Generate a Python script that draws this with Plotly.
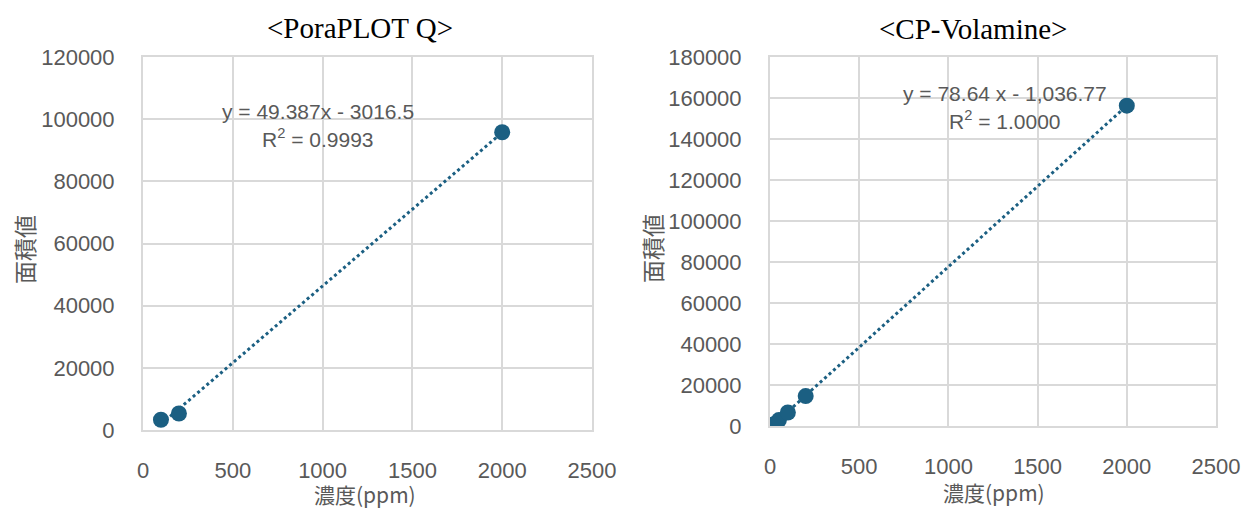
import numpy as np
import plotly.graph_objects as go

# ---- data ----
left_title = "<PoraPLOT Q>"
left_x = [100, 200, 2000]
left_y = [3300, 5300, 95800]
left_eq = "y = 49.387x - 3016.5"
left_r2 = "R<sup>2</sup> = 0.9993"

right_title = "<CP-Volamine>"
right_x = [5, 20, 50, 100, 200, 2000]
right_y = [300, 800, 2900, 6600, 14600, 156250]
right_eq = "y = 78.64 x - 1,036.77"
right_r2 = "R<sup>2</sup> = 1.0000"

x_ticks = [0, 500, 1000, 1500, 2000, 2500]
left_y_ticks = [0, 20000, 40000, 60000, 80000, 100000, 120000]
right_y_ticks = [0, 20000, 40000, 60000, 80000, 100000, 120000, 140000, 160000, 180000]

x_label = "濃度(ppm)"
y_label = "面積値"

# page body has an 8px margin; size the figure so it reaches the window edges
OFF = 8
W, H = 1249 - OFF, 509 - OFF
COL = "#1b5f82"
GRID = "#d9d9d9"
TICKC = "#595959"

fig = go.Figure()

def add_series(x, y, xa, ya):
    coef = np.polyfit(x, y, 1)
    xs = np.array([min(x), max(x)])
    fig.add_trace(go.Scatter(x=xs, y=np.polyval(coef, xs), mode="lines",
                             line=dict(color=COL, width=3, dash="dot"),
                             xaxis=xa, yaxis=ya, showlegend=False, hoverinfo="skip"))
    fig.add_trace(go.Scatter(x=x, y=y, mode="markers",
                             marker=dict(color=COL, size=16),
                             xaxis=xa, yaxis=ya, showlegend=False))

add_series(left_x, left_y, "x", "y")
add_series(right_x, right_y, "x2", "y2")

def px_x(p):
    return (p - OFF) / W

def px_y(p):
    return 1 - (p - OFF) / H

tickfont = dict(family="Liberation Sans, Arial, sans-serif", size=22, color=TICKC)
axcommon = dict(showgrid=True, gridcolor=GRID, gridwidth=2, zeroline=False,
                showline=True, linecolor=GRID, linewidth=2, mirror=True,
                tickfont=tickfont, ticks="", automargin=False, tickformat="d")

fig.update_layout(
    template="none",
    width=W, height=H, margin=dict(l=0, r=0, t=0, b=0, pad=0),
    paper_bgcolor="white", plot_bgcolor="white", showlegend=False,
    xaxis=dict(domain=[px_x(143), px_x(592)], range=[0, 2500], tickvals=x_ticks,
               anchor="y", ticklabelstandoff=20, **axcommon),
    yaxis=dict(domain=[px_y(430), px_y(57)], range=[0, 120000], tickvals=left_y_ticks,
               anchor="x", ticklabelstandoff=22, **axcommon),
    xaxis2=dict(domain=[px_x(770), px_x(1216)], range=[0, 2500], tickvals=x_ticks,
                anchor="y2", ticklabelstandoff=20, **axcommon),
    yaxis2=dict(domain=[px_y(426), px_y(57)], range=[0, 180000], tickvals=right_y_ticks,
                anchor="x2", ticklabelstandoff=22, **axcommon),
)

def ann(text, x, y, size, color, family, angle=0, xref="paper", yref="paper"):
    fig.add_annotation(text=text, x=x, y=y, xref=xref, yref=yref, showarrow=False,
                       xanchor="center", yanchor="middle", textangle=angle,
                       borderpad=0,
                       font=dict(size=size, color=color, family=family))

serif = "Liberation Serif, Times New Roman, serif"
sans = "Liberation Sans, Arial, sans-serif"
cjk = "Noto Sans CJK JP, sans-serif"

ann(left_title, px_x(360), px_y(28), 29, "black", serif)
ann(right_title, px_x(973), px_y(29), 29, "black", serif)

ann(left_eq, px_x(318), px_y(111), 21, TICKC, sans)
ann(left_r2, px_x(318), px_y(138), 21, TICKC, sans)
ann(right_eq, px_x(1005), px_y(93), 21, TICKC, sans)
ann(right_r2, px_x(1005), px_y(120), 21, TICKC, sans)

ann(y_label, px_x(24), px_y(250), 23, TICKC, cjk, angle=-90)
ann(y_label, px_x(652), px_y(249), 23, TICKC, cjk, angle=-90)
ann(x_label, px_x(365), px_y(494), 21, TICKC, cjk)
ann(x_label, px_x(994), px_y(492), 21, TICKC, cjk)

fig.write_html("out.html")
